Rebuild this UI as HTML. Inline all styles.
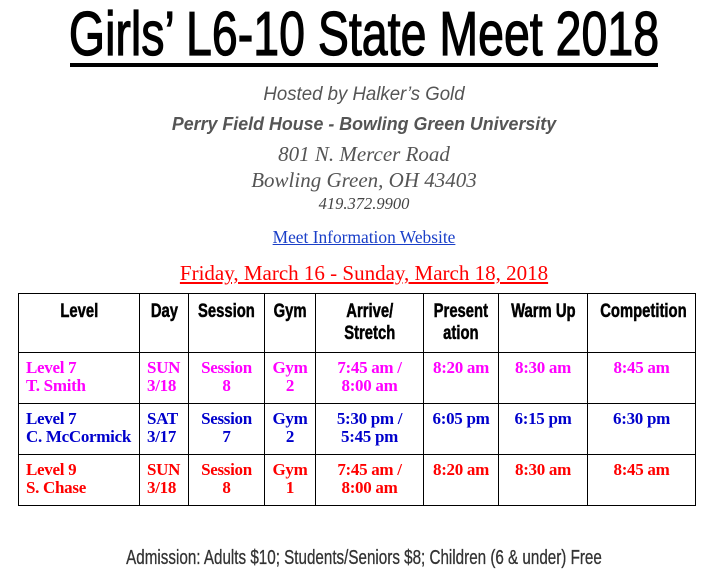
<!DOCTYPE html>
<html><head><style>
body{margin:0;width:706px;height:586px;background:#fff;position:relative;overflow:hidden}
.c{position:absolute;left:364px;white-space:nowrap;transform-origin:center}
table{position:absolute;left:18px;top:293px;border-collapse:collapse;width:677px;table-layout:fixed}
td,th{border:1.5px solid #000;vertical-align:top;padding:6px 4px 0 7px;line-height:18px;white-space:nowrap;overflow:visible}
th{font-family:"Liberation Sans",sans-serif;font-weight:bold;font-size:19px;height:51px;line-height:22px;padding:7px 0 0 0;text-align:center;-webkit-text-stroke:0.5px #000}
th span{display:inline-block;transform:scaleX(0.78)}
td{font-family:"Liberation Serif",serif;font-weight:bold;font-size:17px;height:44px;letter-spacing:-0.3px}
.m td{color:#f0f}.b td{color:#00c}.r td{color:#f00}
.ctr{text-align:center;padding-left:0;padding-right:0}
</style></head><body>
<div class="c" style="top:2px;font-family:'Liberation Sans',sans-serif;font-size:62px;line-height:66px;-webkit-text-stroke:1.2px #000;transform:translateX(-50%) scaleX(0.75)">Girls’ L6-10 State Meet 2018</div>
<div style="position:absolute;left:70px;top:63px;width:588px;height:4px;background:#000"></div>
<div class="c" style="top:84px;font-family:'Liberation Sans',sans-serif;font-style:italic;font-size:19px;color:#555;transform:translateX(-50%) scaleX(0.98)">Hosted by Halker’s Gold</div>
<div class="c" style="top:114px;font-family:'Liberation Sans',sans-serif;font-style:italic;font-weight:bold;font-size:18px;color:#555;transform:translateX(-50%) scaleX(0.99)">Perry Field House - Bowling Green University</div>
<div class="c" style="top:142px;font-family:'Liberation Serif',serif;font-style:italic;font-size:21px;color:#555;transform:translateX(-50%)">801 N. Mercer Road</div>
<div class="c" style="top:168px;font-family:'Liberation Serif',serif;font-style:italic;font-size:21px;color:#555;transform:translateX(-50%)">Bowling Green, OH 43403</div>
<div class="c" style="top:194px;font-family:'Liberation Serif',serif;font-style:italic;font-size:16.5px;color:#444;transform:translateX(-50%)">419.372.9900</div>
<div class="c" style="top:227px;font-family:'Liberation Serif',serif;font-size:17.4px;color:#1a3fc8;text-decoration:underline;transform:translateX(-50%)">Meet Information Website</div>
<div class="c" style="top:261px;font-family:'Liberation Serif',serif;font-size:21px;color:#f00;text-decoration:underline;transform:translateX(-50%)">Friday, March 16 - Sunday, March 18, 2018</div>
<table>
<colgroup><col style="width:121px"><col style="width:49px"><col style="width:76px"><col style="width:51px"><col style="width:108px"><col style="width:75px"><col style="width:89px"><col style="width:108px"></colgroup>
<tr><th><span>Level</span></th><th><span>Day</span></th><th><span>Session</span></th><th><span>Gym</span></th><th><span>Arrive/<br>Stretch</span></th><th><span>Present<br>ation</span></th><th><span>Warm Up</span></th><th><span>Competition</span></th></tr>
<tr class="m"><td>Level 7<br>T. Smith</td><td>SUN<br>3/18</td><td class="ctr">Session<br>8</td><td class="ctr">Gym<br>2</td><td class="ctr">7:45 am /<br>8:00 am</td><td class="ctr">8:20 am</td><td class="ctr">8:30 am</td><td class="ctr">8:45 am</td></tr>
<tr class="b"><td>Level 7<br>C. McCormick</td><td>SAT<br>3/17</td><td class="ctr">Session<br>7</td><td class="ctr">Gym<br>2</td><td class="ctr">5:30 pm /<br>5:45 pm</td><td class="ctr">6:05 pm</td><td class="ctr">6:15 pm</td><td class="ctr">6:30 pm</td></tr>
<tr class="r"><td>Level 9<br>S. Chase</td><td>SUN<br>3/18</td><td class="ctr">Session<br>8</td><td class="ctr">Gym<br>1</td><td class="ctr">7:45 am /<br>8:00 am</td><td class="ctr">8:20 am</td><td class="ctr">8:30 am</td><td class="ctr">8:45 am</td></tr>
</table>
<div class="c" style="top:547px;font-family:'Liberation Sans',sans-serif;font-size:20px;color:#333;-webkit-text-stroke:0.3px #333;transform:translateX(-50%) scaleX(0.76)">Admission: Adults $10; Students/Seniors $8; Children (6 &amp; under) Free</div>
</body></html>
